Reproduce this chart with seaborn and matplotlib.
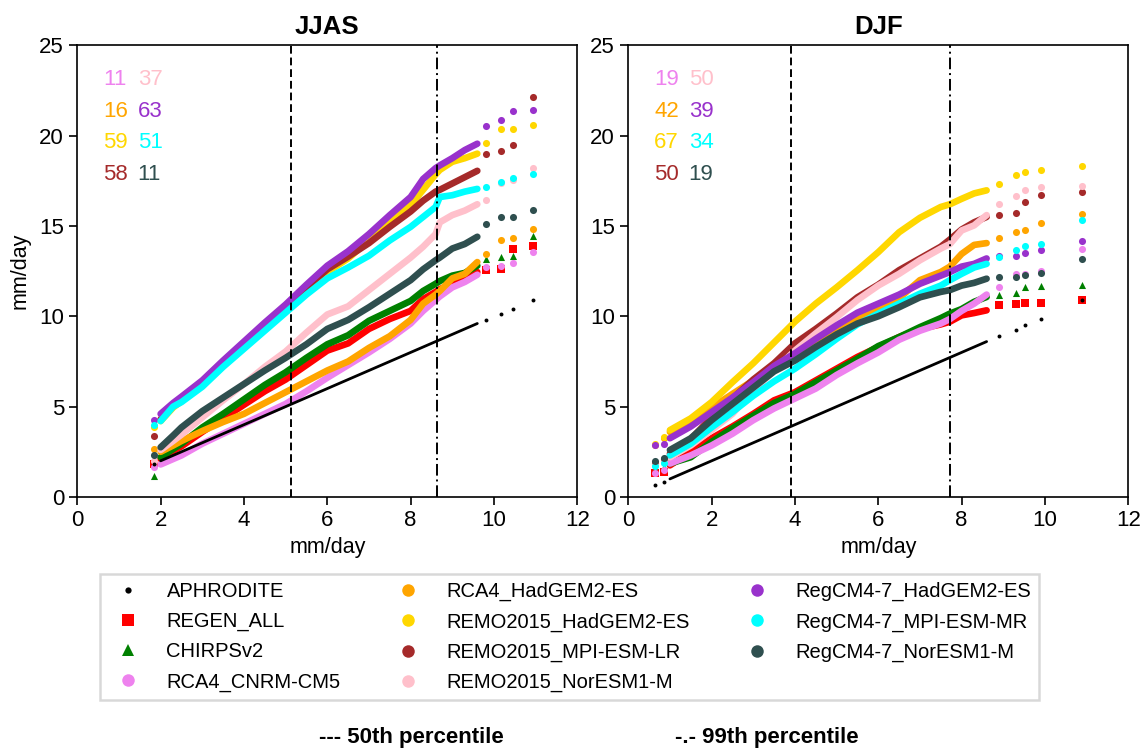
import pandas as pd
import seaborn as sns
import matplotlib.pyplot as plt
from matplotlib.lines import Line2D

# ---- data ----
names = ['APHRODITE', 'REGEN_ALL', 'CHIRPSv2', 'RCA4_CNRM-CM5', 'RCA4_HadGEM2-ES',
         'REMO2015_HadGEM2-ES', 'REMO2015_MPI-ESM-LR', 'REMO2015_NorESM1-M',
         'RegCM4-7_HadGEM2-ES', 'RegCM4-7_MPI-ESM-MR', 'RegCM4-7_NorESM1-M']

# JJAS (x = APHRODITE quantiles, mm/day)
jjas_x = [1.85, 2.0, 2.3, 2.5, 3.0, 3.5, 4.0, 4.5, 5.0, 5.5, 6.0, 6.5, 7.0, 7.5, 8.0,
          8.3, 8.6, 8.7, 9.0, 9.3, 9.6, 9.8, 10.17, 10.45, 10.94]
jjas_aphrodite = [1.85, 2.0, 2.3, 2.5, 3.0, 3.5, 4.0, 4.5, 5.0, 5.5, 6.0, 6.5, 7.0, 7.5, 8.0,
                  8.3, 8.6, 8.7, 9.0, 9.3, 9.6, 9.8, 10.15, 10.43, 10.92]
jjas_regen = [1.85, 2.1, 2.55, 2.8, 3.6, 4.35, 5.1, 5.85, 6.5, 7.3, 8.1, 8.5, 9.3, 9.85, 10.3,
              10.95, 11.35, 11.5, 11.8, 12.1, 12.45, 12.55, 12.62, 13.75, 13.88]
jjas_chirps = [1.15, 2.2, 2.65, 2.95, 3.85, 4.6, 5.4, 6.2, 6.9, 7.7, 8.45, 8.95, 9.75, 10.3, 10.85,
               11.4, 11.8, 11.95, 12.25, 12.4, 12.8, 13.16, 13.3, 13.34, 14.43]
jjas_rca4_cnrm = [1.65, 1.8, 2.1, 2.3, 2.95, 3.5, 4.05, 4.6, 5.15, 5.85, 6.6, 7.3, 8.0, 8.75, 9.6,
                  10.3, 10.9, 11.1, 11.6, 11.9, 12.3, 12.7, 12.77, 12.97, 13.57]
jjas_rca4_hadgem = [2.65, 2.5, 2.85, 3.1, 3.65, 4.15, 4.6, 5.2, 5.8, 6.4, 7.0, 7.5, 8.25, 8.9, 9.8,
                    10.7, 11.2, 11.4, 12.1, 12.35, 13.0, 13.46, 14.24, 14.35, 14.85]
jjas_remo_hadgem = [3.85, 4.2, 4.95, 5.3, 6.2, 7.3, 8.3, 9.35, 10.35, 11.4, 12.45, 13.2, 14.2, 15.15, 16.15,
                    17.0, 17.85, 18.1, 18.55, 18.75, 19.0, 19.6, 20.35, 20.35, 20.57]
jjas_remo_mpi = [3.4, 4.3, 5.05, 5.45, 6.35, 7.45, 8.5, 9.5, 10.5, 11.6, 12.6, 13.3, 14.05, 14.95, 15.8,
                 16.4, 16.9, 17.0, 17.35, 17.7, 18.05, 19.0, 19.13, 19.46, 22.14]
jjas_remo_noresm = [2.0, 2.6, 3.1, 3.45, 4.4, 5.35, 6.25, 7.2, 8.05, 9.1, 10.1, 10.55, 11.45, 12.35, 13.25,
                    13.85, 14.55, 15.2, 15.6, 15.85, 16.2, 16.45, 17.35, 17.53, 18.23]
jjas_regcm_hadgem = [4.25, 4.6, 5.2, 5.55, 6.45, 7.55, 8.6, 9.65, 10.65, 11.75, 12.8, 13.6, 14.55, 15.6, 16.6,
                     17.6, 18.2, 18.35, 18.75, 19.2, 19.55, 20.55, 20.85, 21.35, 21.4]
jjas_regcm_mpi = [3.97, 4.2, 5.0, 5.25, 6.1, 7.2, 8.2, 9.2, 10.2, 11.2, 12.1, 12.7, 13.35, 14.2, 14.95,
                  15.5, 16.05, 16.6, 16.7, 16.9, 17.05, 17.15, 17.42, 17.66, 17.86]
jjas_regcm_noresm = [2.35, 2.75, 3.4, 3.85, 4.75, 5.5, 6.25, 7.0, 7.7, 8.45, 9.3, 9.8, 10.5, 11.25, 12.0,
                     12.6, 13.1, 13.25, 13.75, 14.0, 14.4, 15.13, 15.5, 15.5, 15.9]
jjas_scores = [11, 16, 59, 58, 37, 63, 51, 11]

# DJF
djf_x = [0.65, 0.85, 1.0, 1.5, 2.0, 2.5, 3.0, 3.5, 4.0, 4.5, 5.0, 5.5, 6.0, 6.5, 7.0, 7.5,
         7.72, 8.0, 8.3, 8.6, 8.9, 9.3, 9.52, 9.9, 10.9]
djf_aphrodite = [0.65, 0.85, 1.0, 1.5, 2.0, 2.5, 3.0, 3.5, 4.0, 4.5, 5.0, 5.5, 6.0, 6.5, 7.0, 7.5,
                 7.72, 8.0, 8.3, 8.6, 8.9, 9.26, 9.5, 9.87, 10.9]
djf_regen = [1.3, 1.4, 1.75, 2.5, 3.25, 3.9, 4.6, 5.35, 5.8, 6.45, 7.1, 7.75, 8.3, 8.85, 9.3, 9.55,
             9.7, 10.05, 10.18, 10.33, 10.6, 10.7, 10.74, 10.75, 10.92]
djf_chirps = [1.47, 1.65, 1.85, 2.2, 3.05, 3.8, 4.5, 5.2, 5.7, 6.35, 7.0, 7.65, 8.35, 8.85, 9.4, 9.9,
              10.15, 10.4, 10.8, 11.07, 11.2, 11.27, 11.62, 11.7, 11.75]
djf_rca4_cnrm = [1.35, 1.5, 1.85, 2.3, 2.85, 3.5, 4.25, 4.9, 5.45, 6.0, 6.75, 7.4, 8.0, 8.7, 9.2, 9.6,
                 9.85, 10.3, 10.7, 11.2, 11.6, 12.36, 12.36, 12.53, 13.72]
djf_rca4_hadgem = [2.9, 3.25, 3.6, 4.25, 4.95, 5.7, 6.45, 7.15, 7.65, 8.4, 9.1, 9.9, 10.35, 11.0, 12.0, 12.45,
                   12.75, 13.45, 13.95, 14.05, 14.33, 14.65, 14.76, 15.18, 15.64]
djf_remo_hadgem = [2.95, 3.3, 3.7, 4.35, 5.25, 6.35, 7.4, 8.55, 9.7, 10.7, 11.6, 12.55, 13.55, 14.65, 15.45, 16.05,
                   16.2, 16.5, 16.8, 16.97, 17.3, 17.84, 17.97, 18.1, 18.32]
djf_remo_mpi = [1.9, 2.1, 2.4, 3.2, 4.4, 5.45, 6.5, 7.4, 8.5, 9.3, 10.15, 11.05, 11.75, 12.55, 13.2, 13.85,
                14.25, 14.8, 15.2, 15.5, 15.6, 15.74, 16.31, 16.7, 16.86]
djf_remo_noresm = [1.75, 1.95, 2.2, 2.85, 3.7, 4.6, 5.9, 7.0, 8.1, 9.05, 9.95, 10.9, 11.7, 12.35, 13.1, 13.75,
                   14.0, 14.75, 15.03, 15.6, 16.2, 16.64, 17.01, 17.14, 17.23]
djf_regcm_hadgem = [2.85, 2.95, 3.25, 3.9, 4.7, 5.5, 6.35, 7.25, 7.95, 8.75, 9.5, 10.2, 10.7, 11.2, 11.8, 12.25,
                    12.45, 12.75, 12.9, 13.2, 13.35, 13.36, 13.52, 13.65, 14.19]
djf_regcm_mpi = [1.72, 1.9, 2.3, 2.95, 3.85, 4.7, 5.6, 6.4, 7.1, 7.9, 8.75, 9.55, 10.15, 10.7, 11.25, 11.7,
                 12.0, 12.35, 12.7, 12.9, 13.3, 13.67, 13.89, 14.02, 15.31]
djf_regcm_noresm = [2.0, 2.15, 2.6, 3.25, 4.25, 5.15, 6.05, 6.95, 7.55, 8.3, 9.0, 9.6, 10.0, 10.5, 11.05, 11.35,
                    11.45, 11.7, 11.85, 12.08, 12.18, 12.19, 12.3, 12.41, 13.17]
djf_scores = [19, 42, 67, 50, 50, 39, 34, 19]

colors = ['black', 'red', 'green', 'violet', 'orange', 'gold', 'brown', 'pink',
          'darkorchid', 'cyan', 'darkslategray']
markers = ['o', 's', '^', 'o', 'o', 'o', 'o', 'o', 'o', 'o', 'o']

sns.set_theme(style='ticks')
plt.rcParams['font.family'] = ['Liberation Sans', 'DejaVu Sans']
plt.rcParams.update({'text.color': 'black', 'axes.labelcolor': 'black',
                     'xtick.color': 'black', 'ytick.color': 'black'})

fig = plt.figure(figsize=(11.45, 7.48), dpi=100)
ax1 = fig.add_axes([0.0675, 0.3356, 0.4367, 0.6039])
ax2 = fig.add_axes([0.5487, 0.3356, 0.4367, 0.6039])


def draw_panel(ax, x, series, n0, n1, scores, p50, p99, title):
    # draw models first, APHRODITE on top
    order = list(range(1, len(names))) + [0]
    for i in order:
        y = series[i]
        is_ref = i == 0
        dense = pd.DataFrame({'x': x[n0:n1], 'y': y[n0:n1]})
        sparse = pd.DataFrame({'x': x[:n0] + x[n1:], 'y': y[:n0] + y[n1:]})
        sns.lineplot(data=dense, x='x', y='y', ax=ax, color=colors[i], sort=False,
                     estimator=None, lw=2.0 if is_ref else 4.8,
                     solid_capstyle='round', zorder=5 if is_ref else 3)
        sns.scatterplot(data=sparse, x='x', y='y', ax=ax, color=colors[i],
                        marker=markers[i], s=8 if is_ref else 26, linewidth=0,
                        zorder=5 if is_ref else 3)
    ax.axvline(p50, color='black', ls=(0, (4, 2)), lw=1.4, zorder=6)
    ax.axvline(p99, color='black', ls=(0, (6, 2, 1, 2)), lw=1.4, zorder=6)
    for k, sc in enumerate(scores):
        col, row = divmod(k, 4)
        ax.text(0.62 + 0.83 * col, 23.1 - 1.75 * row, str(sc), color=colors[3 + k],
                fontsize=16, ha='left', va='center')
    ax.set_xlim(0, 12)
    ax.set_ylim(0, 25)
    ax.set_xticks(range(0, 13, 2))
    ax.set_yticks(range(0, 26, 5))
    ax.tick_params(labelsize=16, length=6, width=1.2, color='black', labelcolor='black')
    for sp in ax.spines.values():
        sp.set_visible(True)
        sp.set_color('black')
        sp.set_linewidth(1.2)
    ax.set_xlabel('mm/day', fontsize=15.5, color='black')
    ax.set_ylabel('')
    ax.set_title(title, fontsize=18.5, fontweight='bold', pad=8, color='black')


jjas = [jjas_aphrodite, jjas_regen, jjas_chirps, jjas_rca4_cnrm, jjas_rca4_hadgem,
        jjas_remo_hadgem, jjas_remo_mpi, jjas_remo_noresm, jjas_regcm_hadgem,
        jjas_regcm_mpi, jjas_regcm_noresm]
djf = [djf_aphrodite, djf_regen, djf_chirps, djf_rca4_cnrm, djf_rca4_hadgem,
       djf_remo_hadgem, djf_remo_mpi, djf_remo_noresm, djf_regcm_hadgem,
       djf_regcm_mpi, djf_regcm_noresm]

draw_panel(ax1, jjas_x, jjas, 1, 21, jjas_scores, 5.14, 8.64, 'JJAS')
draw_panel(ax2, djf_x, djf, 2, 20, djf_scores, 3.9, 7.72, 'DJF')
ax1.set_ylabel('mm/day', fontsize=15.5, labelpad=6, color='black')

handles = [Line2D([], [], ls='none', marker=m, color=c,
                  markersize=4.5 if i == 0 else 9, markeredgewidth=0)
           for i, (m, c) in enumerate(zip(markers, colors))]
leg = fig.legend(handles, names, loc='upper left', bbox_to_anchor=(100 / 1145, 1 - 574 / 748),
                 ncol=3, frameon=True, fancybox=False, edgecolor='#cfcfcf', fontsize=14.5,
                 labelspacing=0.55, columnspacing=2.35, handletextpad=0.9, borderpad=0.4,
                 borderaxespad=0)
leg.get_frame().set_linewidth(1.8)
for t in leg.get_texts():
    t.set_color('black')

fig.text(411 / 1145, 1 - 738 / 748, '--- 50th percentile', ha='center', va='center',
         fontsize=16, fontweight='bold')
fig.text(767 / 1145, 1 - 738 / 748, '-.- 99th percentile', ha='center', va='center',
         fontsize=16, fontweight='bold')

fig.savefig('out.png', dpi=100)
